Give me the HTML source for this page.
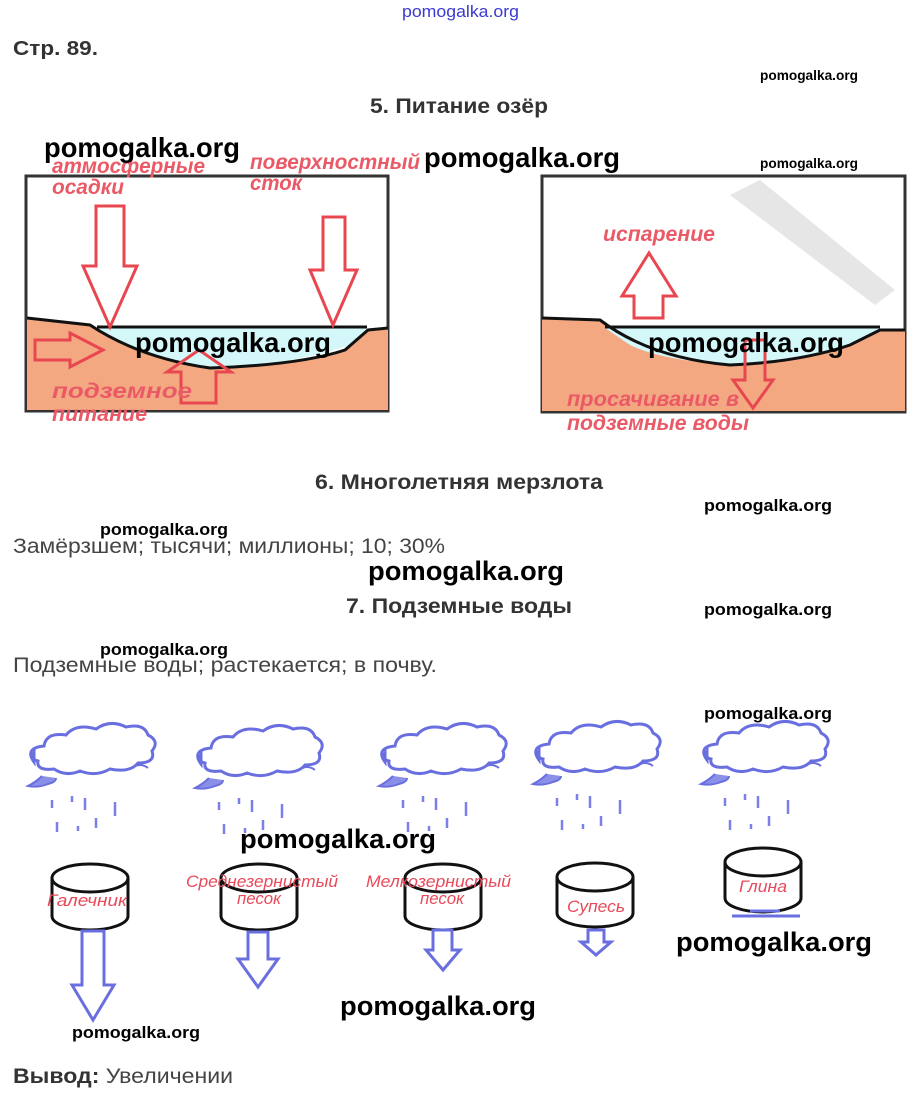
<!DOCTYPE html>
<html><head><meta charset="utf-8"><style>
body{margin:0;width:919px;height:1101px;background:#fff;overflow:hidden;font-family:"Liberation Sans",sans-serif}
svg{position:absolute;left:0;top:0}
</style></head><body>
<svg width="919" height="1101" viewBox="0 0 919 1101" xmlns="http://www.w3.org/2000/svg" font-family="Liberation Sans, sans-serif">
<defs>
<g id="cl">
<path d="M-58,2 q-10,-14 10,-16 q2,-14 22,-11 q10,-12 30,-6 q14,-10 30,-2 q18,-4 22,8 q12,6 4,16 q4,12 -14,12 q-8,10 -28,6 q-14,8 -30,2 q-14,6 -26,-2 q-18,2 -16,-8 q-8,-2 -4,-8 z" fill="#fff" stroke="#6a6fe0" stroke-width="3"/>
<path d="M-50,16 q-6,6 -14,10 q10,2 20,-2 q8,-2 8,-6" fill="#8a8fe8" stroke="#6a6fe0" stroke-width="2"/>
<path d="M40,8 q8,-6 16,0" fill="none" stroke="#6a6fe0" stroke-width="2"/>
<g stroke="#7a80e8" stroke-width="2.5">
<line x1="-40" y1="40" x2="-40" y2="48"/><line x1="-20" y1="36" x2="-20" y2="42"/><line x1="-7" y1="38" x2="-7" y2="50"/><line x1="23" y1="42" x2="23" y2="56"/>
<line x1="-35" y1="62" x2="-35" y2="72"/><line x1="-14" y1="66" x2="-14" y2="71"/><line x1="4" y1="58" x2="4" y2="68"/>
</g>
</g>
</defs>
<text x="402" y="17" font-size="17" fill="#3a3ad0" textLength="117" lengthAdjust="spacingAndGlyphs">pomogalka.org</text>
<text x="13" y="55" font-size="20" font-weight="bold" fill="#333" textLength="85" lengthAdjust="spacingAndGlyphs">Стр. 89.</text>
<text x="760" y="80" font-size="14" font-weight="bold" textLength="98" lengthAdjust="spacingAndGlyphs">pomogalka.org</text>
<text x="370" y="113" font-size="21" font-weight="bold" fill="#333" textLength="178" lengthAdjust="spacingAndGlyphs">5. Питание озёр</text>
<text x="760" y="168" font-size="14" font-weight="bold" textLength="98" lengthAdjust="spacingAndGlyphs">pomogalka.org</text>

<!-- Lake 1 -->
<rect x="26" y="176" width="362" height="235" fill="#fff" stroke="#333" stroke-width="3"/>
<path d="M27,318 L90,325 Q140,358 210,368 Q300,365 345,350 L368,330 L388,328 L388,410 L27,410 Z" fill="#f4a882"/>
<path d="M97,328 L367,328 L350,345 Q300,362 230,368 Q180,366 140,352 Z" fill="#d4f7fa"/>
<path d="M27,318 L90,325 Q140,358 210,368 Q300,365 345,350 L368,330 L388,328" fill="none" stroke="#111" stroke-width="3"/>
<path d="M97,327 L367,327" stroke="#111" stroke-width="3"/>
<g fill="none" stroke="#e8474f" stroke-width="3">
<path d="M96,206 h28 v60 h13 l-27,61 l-27,-61 h13 z"/>
<path d="M323,217 h22 v53 h12 l-24,55 l-23,-55 h13 z"/>
<path d="M35,340 h35 v-7 l33,17 l-33,17 v-7 h-35 z"/>
<path d="M181,403 v-31 h-14 l32,-22 l32,22 h-15 v31 z"/>
</g>
<g font-size="21" font-weight="bold" font-style="italic" fill="#ea5a66">
<text x="52" y="173" textLength="153" lengthAdjust="spacingAndGlyphs">атмосферные</text><text x="52" y="194" textLength="72" lengthAdjust="spacingAndGlyphs">осадки</text>
<text x="250" y="169" textLength="170" lengthAdjust="spacingAndGlyphs">поверхностный</text><text x="250" y="190" textLength="52" lengthAdjust="spacingAndGlyphs">сток</text>
<text x="52" y="398" textLength="140" lengthAdjust="spacingAndGlyphs">подземное</text><text x="52" y="421" textLength="95" lengthAdjust="spacingAndGlyphs">питание</text>
</g>

<!-- Lake 2 -->
<rect x="542" y="176" width="363" height="236" fill="#fff" stroke="#333" stroke-width="3"/>
<path d="M730,195 L760,180 L895,290 L875,305 Z" fill="#e6e6e6"/>
<path d="M542,318 L600,320 Q650,358 730,365 Q800,362 850,345 L880,330 L905,330 L905,411 L542,411 Z" fill="#f4a882"/>
<path d="M605,328 L880,328 L850,345 Q800,362 730,365 Q660,360 630,345 Z" fill="#d4f7fa"/>
<path d="M542,318 L600,320 Q650,358 730,365 Q800,362 850,345 L880,330 L905,330" fill="none" stroke="#111" stroke-width="3"/>
<path d="M605,327 L880,327" stroke="#111" stroke-width="3"/>
<g fill="none" stroke="#e8474f" stroke-width="3">
<path d="M634,318 v-22 h-12 l27,-43 l27,43 h-13 v22 z"/>
<path d="M745,340 h20 v40 h8 l-20,28 l-20,-28 h12 z"/>
</g>
<g font-size="21" font-weight="bold" font-style="italic" fill="#ea5a66">
<text x="603" y="241" textLength="112" lengthAdjust="spacingAndGlyphs">испарение</text>
<text x="567" y="406" textLength="172" lengthAdjust="spacingAndGlyphs">просачивание в</text><text x="567" y="430" textLength="182" lengthAdjust="spacingAndGlyphs">подземные воды</text>
</g>

<g font-weight="bold" fill="#000" font-size="28">
<text x="44" y="157" textLength="196" lengthAdjust="spacingAndGlyphs">pomogalka.org</text>
<text x="424" y="167" textLength="196" lengthAdjust="spacingAndGlyphs">pomogalka.org</text>
<text x="135" y="352" textLength="196" lengthAdjust="spacingAndGlyphs">pomogalka.org</text>
<text x="648" y="352" textLength="196" lengthAdjust="spacingAndGlyphs">pomogalka.org</text>
</g>

<text x="315" y="489" font-size="21" font-weight="bold" fill="#333" textLength="288" lengthAdjust="spacingAndGlyphs">6. Многолетняя мерзлота</text>
<text x="704" y="511" font-size="17" font-weight="bold" textLength="128" lengthAdjust="spacingAndGlyphs">pomogalka.org</text>
<text x="100" y="535" font-size="17" font-weight="bold" textLength="128" lengthAdjust="spacingAndGlyphs">pomogalka.org</text>
<text x="13" y="553" font-size="21" fill="#444" textLength="432" lengthAdjust="spacingAndGlyphs">Замёрзшем; тысячи; миллионы; 10; 30%</text>
<text x="368" y="580" font-size="27" font-weight="bold" textLength="196" lengthAdjust="spacingAndGlyphs">pomogalka.org</text>
<text x="346" y="613" font-size="21" font-weight="bold" fill="#333" textLength="226" lengthAdjust="spacingAndGlyphs">7. Подземные воды</text>
<text x="704" y="615" font-size="17" font-weight="bold" textLength="128" lengthAdjust="spacingAndGlyphs">pomogalka.org</text>
<text x="100" y="655" font-size="17" font-weight="bold" textLength="128" lengthAdjust="spacingAndGlyphs">pomogalka.org</text>
<text x="13" y="672" font-size="21" fill="#444" textLength="424" lengthAdjust="spacingAndGlyphs">Подземные воды; растекается; в почву.</text>
<text x="704" y="719" font-size="17" font-weight="bold" textLength="128" lengthAdjust="spacingAndGlyphs">pomogalka.org</text>

<use href="#cl" x="92" y="760"/>
<use href="#cl" x="259" y="762"/>
<use href="#cl" x="443" y="760"/>
<use href="#cl" x="597" y="758"/>
<use href="#cl" x="765" y="758"/>

<!-- cylinders -->
<g fill="#fff" stroke="#111" stroke-width="3">
<path d="M52,878 v38 a38,14 0 0 0 76,0 v-38"/><ellipse cx="90" cy="878" rx="38" ry="14"/>
<path d="M221,878 v38 a38,14 0 0 0 76,0 v-38"/><ellipse cx="259" cy="878" rx="38" ry="14"/>
<path d="M405,878 v38 a38,14 0 0 0 76,0 v-38"/><ellipse cx="443" cy="878" rx="38" ry="14"/>
<path d="M557,877 v36 a38,14 0 0 0 76,0 v-36"/><ellipse cx="595" cy="877" rx="38" ry="14"/>
<path d="M725,862 v36 a38,14 0 0 0 76,0 v-36"/><ellipse cx="763" cy="862" rx="38" ry="14"/>
</g>
<g fill="none" stroke="#6a6fe0" stroke-width="3">
<path d="M82,931 h22 v54 h10 l-21,35 l-21,-35 h10 z"/>
<path d="M248,932 h20 v27 h10 l-20,28 l-20,-28 h10 z"/>
<path d="M433,930 h19 v20 h8 l-17,20 l-17,-20 h7 z"/>
<path d="M588,930 h16 v12 h7 l-15,13 l-15,-13 h7 z"/>
<path d="M732,916 h68 M750,911 h30"/>
</g>
<g font-size="17" font-style="italic" fill="#e84a5a">
<text x="47" y="906" textLength="80" lengthAdjust="spacingAndGlyphs">Галечник</text>
<text x="186" y="887" textLength="152" lengthAdjust="spacingAndGlyphs">Среднезернистый</text><text x="237" y="904" textLength="44" lengthAdjust="spacingAndGlyphs">песок</text>
<text x="366" y="887" textLength="145" lengthAdjust="spacingAndGlyphs">Мелкозернистый</text><text x="420" y="904" textLength="44" lengthAdjust="spacingAndGlyphs">песок</text>
<text x="567" y="912" textLength="58" lengthAdjust="spacingAndGlyphs">Супесь</text>
<text x="739" y="892" textLength="48" lengthAdjust="spacingAndGlyphs">Глина</text>
</g>
<g font-weight="bold" fill="#000">
<text x="240" y="848" font-size="27" textLength="196" lengthAdjust="spacingAndGlyphs">pomogalka.org</text>
<text x="676" y="951" font-size="27" textLength="196" lengthAdjust="spacingAndGlyphs">pomogalka.org</text>
<text x="340" y="1015" font-size="27" textLength="196" lengthAdjust="spacingAndGlyphs">pomogalka.org</text>
<text x="72" y="1038" font-size="17" textLength="128" lengthAdjust="spacingAndGlyphs">pomogalka.org</text>
</g>
<text x="13" y="1083" font-size="21" fill="#444" textLength="220" lengthAdjust="spacingAndGlyphs"><tspan font-weight="bold" fill="#333">Вывод:</tspan> Увеличении</text>
</svg>
</body></html>
